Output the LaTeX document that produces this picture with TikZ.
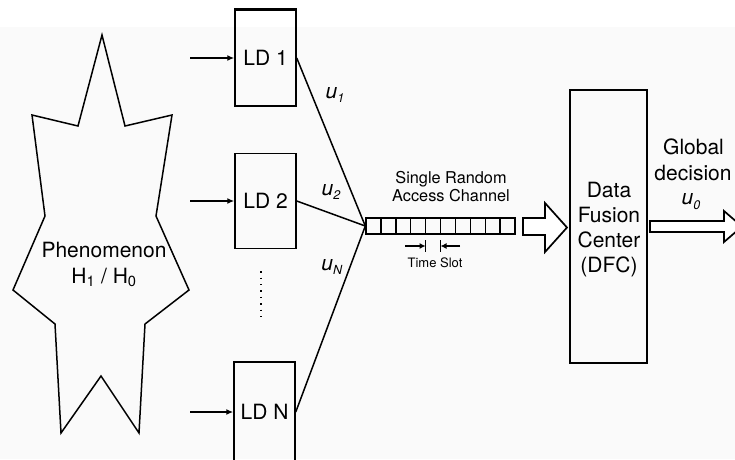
\documentclass[tikz,border=0pt]{standalone}
\usepackage{fontspec}
\setmainfont{TeX Gyre Heros}
\usetikzlibrary{arrows.meta}
\definecolor{bgc}{RGB}{250,250,250}
\newcommand\fsz[1]{\fontsize{#1}{#1}\selectfont}
\newcommand\ulab[1]{\textit{u}\raisebox{-0.45ex}{\fontsize{12.5}{12.5}\selectfont\textit{#1}}}
\begin{document}
\begin{tikzpicture}[x=1pt,y=-1pt,line width=1.5pt,line join=miter,
  ldbox/.style={draw,minimum width=61pt,inner sep=0pt,font=\fsz{21}},
  txt/.style={inner sep=0pt,font=\fsz{21},anchor=base},
  smalltxt/.style={inner sep=0pt,font=\fsz{16.3},anchor=base},
  inarrow/.style={line width=1.4pt,-{Latex[length=7pt,width=6pt]}},
  slotarrow/.style={line width=1.3pt,-{Latex[length=6pt,width=6pt]}},
  ulabel/.style={inner sep=0pt,font=\fsz{21}},
  blockarrow/.style={draw,line width=1.7pt,fill=white}]
\useasboundingbox (0,0) rectangle (735,459);
\fill[bgc] (0,27) rectangle (735,459);

% phenomenon star
\draw (102,35) -- (125,126) -- (172,115) -- (156,216) -- (189,290) -- (145,324)
  -- (139,433) -- (101,376) -- (61,433) -- (55,324) -- (13,290) -- (45,216)
  -- (32,115) -- (78,126) -- cycle;
\node[txt] (phen) at (104,257) {Phenomenon};
\node[txt] (hyp) at (104,283) {H\textsubscript{1} / H\textsubscript{0}};

% local detectors
\node[ldbox,minimum height=96pt] (ld1) at (265.5,58) {LD 1};
\draw[line width=2.6pt] (ld1.north west) -- (ld1.north east);
\node[ldbox,minimum height=95pt] (ld2) at (265.5,201) {LD 2};
\node[ldbox,minimum height=100pt] (ldn) at (264.5,412) {LD N};
\node[inner sep=0pt,minimum width=2pt,minimum height=48pt] (dots) at (261,296) {};
\draw[line width=1.4pt,dash pattern=on 1.4pt off 5pt] (dots.north) -- (dots.south);

\coordinate (i1) at (190,58);
\coordinate (i2) at (190,201);
\coordinate (i3) at (190,412);
\draw[inarrow] (i1) -- (ld1.west);
\draw[inarrow] (i2) -- (ld2.west);
\draw[inarrow] (i3) -- (ldn.west);

% channel
\node[draw,minimum width=149pt,minimum height=16pt,inner sep=0pt,line width=1.4pt] (chan) at (440.5,226) {};
\foreach \i in {1,...,9} \draw[line width=1.4pt] (366+\i*14.9,218) -- ++(0,16);
\draw (ld1.east) -- (chan.west);
\draw (ld2.east) -- (chan.west);
\draw (ldn.east) -- (chan.west);

\node[ulabel] (u1) at (335,95) {\ulab{1}};
\node[ulabel] (u2) at (331,192) {\ulab{2}};
\node[ulabel] (uN) at (332,267) {\ulab{N}};

\node[smalltxt] (sr) at (451,183) {Single Random};
\node[smalltxt] (ac) at (451,201) {Access Channel};

% time slot
\coordinate (b1t) at (425.6,240); \coordinate (b1b) at (425.6,252);
\coordinate (b2t) at (440.5,240); \coordinate (b2b) at (440.5,252);
\draw[line width=1.3pt] (b1t) -- (b1b);
\draw[line width=1.3pt] (b2t) -- (b2b);
\coordinate (ta1) at (405,246); \coordinate (ta2) at (460,246);
\draw[slotarrow] (ta1) -- (b1t |- ta1);
\draw[slotarrow] (ta2) -- (b2t |- ta2);
\node[inner sep=0pt,font=\fsz{13},anchor=base] (ts) at (435,267) {Time Slot};

% block arrow to DFC
\draw[blockarrow] (523,218) -- (545,218) -- (545,203) -- (567,227.5) -- (545,252)
  -- (545,235) -- (523,235) -- cycle;

% DFC
\node[draw,minimum width=77pt,minimum height=273pt,inner sep=0pt] (dfc) at (608.5,226.5) {};
\node[txt] (d1) at (609,197) {Data};
\node[txt] (d2) at (609,222) {Fusion};
\node[txt] (d3) at (609,247) {Center};
\node[txt] (d4) at (609,272) {(DFC)};

% output
\draw[blockarrow] (650,221) -- (724,221) -- (724,211) -- (742,226.5) -- (724,242)
  -- (724,232) -- (650,232) -- cycle;
\node[txt] (g1) at (693.5,154) {Global};
\node[txt] (g2) at (693,180) {decision};
\node[ulabel] (u0) at (691,202) {\ulab{0}};
\end{tikzpicture}
\end{document}
